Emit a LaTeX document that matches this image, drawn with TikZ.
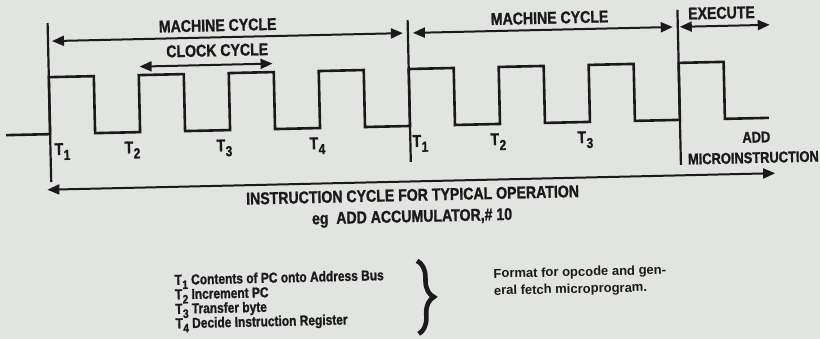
\documentclass[tikz,border=0pt]{standalone}
\usepackage{fontspec}
\usepackage{graphicx}
\setmainfont{Liberation Sans}
\newfontfamily\condb{Liberation Sans}[FakeStretch=0.83,FakeBold=1.2]
\usetikzlibrary{arrows.meta,decorations.pathreplacing}
\definecolor{bg}{HTML}{E2E4E1}
\definecolor{ink}{HTML}{1A1A1A}
\newcommand\Tn[1]{T\kern0.3pt\raisebox{-0.3em}[0pt][0pt]{\scalebox{0.85}{#1}}}
\begin{document}
\begin{tikzpicture}[x=1pt,y=-1pt,
  lbl/.style={font=\condb\bfseries\fontsize{17}{17}\selectfont, text=ink, inner sep=0pt},
  small/.style={font=\condb\bfseries\fontsize{15.5}{15.5}\selectfont, text=ink, inner sep=0pt},
  leg/.style={font=\condb\bfseries\fontsize{14.4}{15}\selectfont, text=ink, inner sep=0pt, anchor=base west},
  fmt/.style={font=\bfseries\fontsize{13}{17}\selectfont, text=ink, inner sep=0pt, anchor=base west},
  wave/.style={draw=ink, line width=2.6pt, line join=miter},
  vline/.style={draw=ink, line width=2.2pt},
  dbl/.style={draw=ink, line width=2pt, {Triangle[length=12pt,width=10pt]}-{Triangle[length=12pt,width=10pt]}},
  bracestyle/.style={draw=ink, line width=4.6pt, decorate, decoration={brace, amplitude=16pt, aspect=0.5}}
]
\fill[bg] (0,0) rectangle (820,339);
\useasboundingbox (0,0) rectangle (820,339);
\begin{scope}[rotate around={1.3:(410,170)}, transform shape]
  % clock waveform
  \draw[wave] (7,126) -| (51,69) -| (96,126) -| (141,69) -| (186,126) -| (231,69)
    -| (276,126) -| (321,69) -| (366,126) -| (411,69) -| (456,126) -| (501,69)
    -| (546,126) -| (591,69) -| (636,126) -| (681,69) -| (726,126) -- (770,126);
  % vertical markers
  \draw[vline] (51,15) -- (51,174);
  \draw[vline] (411,20) -- (411,162);
  \draw[vline] (681,16) -- (681,171);
  % machine cycle 1
  \coordinate (mc1a) at (55,33); \coordinate (mc1b) at (406,33);
  \draw[dbl] (mc1a) -- (mc1b);
  \node[lbl] (mc1) at (221,21) {MACHINE CYCLE};
  % clock cycle
  \coordinate (cca) at (142,60.5); \coordinate (ccb) at (275,60.5);
  \draw[dbl] (cca) -- (ccb);
  \node[lbl] (cc) at (220,46) {CLOCK CYCLE};
  % machine cycle 2
  \coordinate (mc2a) at (416,33); \coordinate (mc2b) at (676,33);
  \draw[dbl] (mc2a) -- (mc2b);
  \node[lbl] (mc2) at (553,21) {MACHINE CYCLE};
  % execute
  \coordinate (exa) at (683,33); \coordinate (exb) at (773,33);
  \draw[dbl] (exa) -- (exb);
  \node[lbl] (ex) at (725,20) {EXECUTE};
  % T labels
  \node[lbl, anchor=base west] (t1) at (55,147) {\Tn{1}};
  \node[lbl, anchor=base west] (t2) at (125,147) {\Tn{2}};
  \node[lbl, anchor=base west] (t3) at (217,147) {\Tn{3}};
  \node[lbl, anchor=base west] (t4) at (310,147) {\Tn{4}};
  \node[lbl, anchor=base west] (u1) at (413,147) {\Tn{1}};
  \node[lbl, anchor=base west] (u2) at (491,147) {\Tn{2}};
  \node[lbl, anchor=base west] (u3) at (578,147) {\Tn{3}};
  \node[small] (add) at (757,145) {ADD};
  \node[small, anchor=west] (micro) at (688,165.5) {MICROINSTRUCTION};
  % instruction cycle
  \coordinate (ica) at (47,181.5); \coordinate (icb) at (775,181.5);
  \draw[dbl] (ica) -- (icb);
  \node[lbl] (ic) at (412,195) {INSTRUCTION CYCLE FOR TYPICAL OPERATION};
  \node[lbl] (eg) at (411,218) {eg\ \ ADD ACCUMULATOR,\# 10};
  % legend
  \node[leg] (l1) at (172,279.5) {\Tn{1} Contents of PC onto Address Bus};
  \node[leg] (l2) at (172,294) {\Tn{2} Increment PC};
  \node[leg] (l3) at (172,308.5) {\Tn{3} Transfer byte};
  \node[leg] (l4) at (172,323) {\Tn{4} Decide Instruction Register};
  \coordinate (bra) at (415,261); \coordinate (brb) at (415,334);
  \draw[bracestyle] (bra) -- (brb);
  \node[fmt] (f1) at (491,280) {Format for opcode and gen-};
  \node[fmt] (f2) at (491,297) {eral fetch microprogram.};
\end{scope}
\end{tikzpicture}
\end{document}
